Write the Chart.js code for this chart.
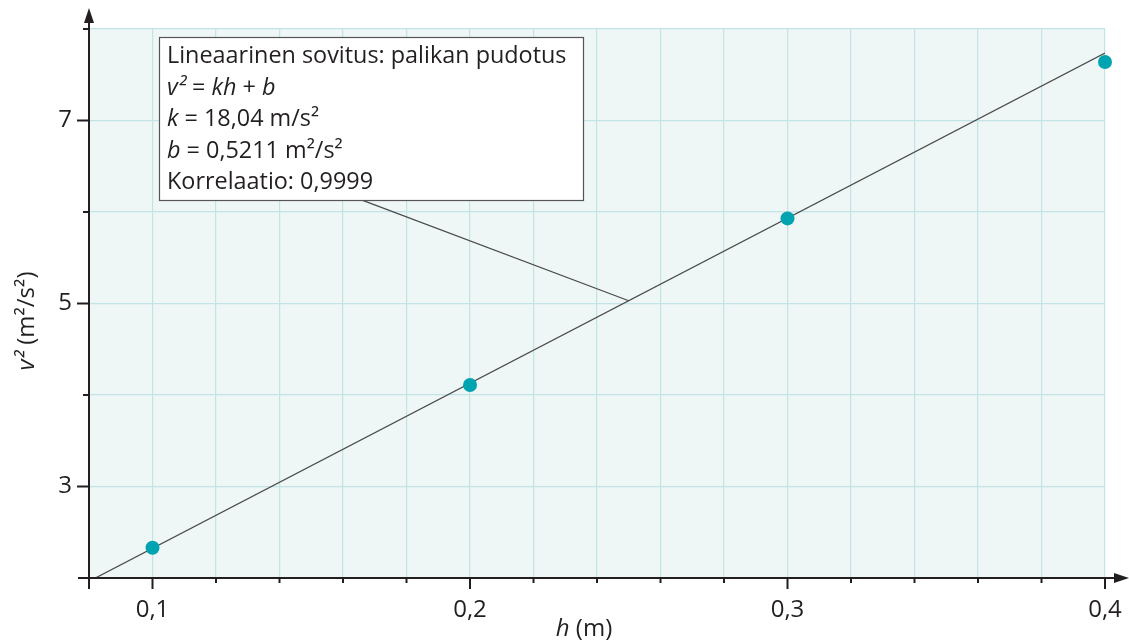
<!DOCTYPE html>
<html>
<head>
<meta charset="utf-8">
<script src="https://cdn.jsdelivr.net/npm/chart.js@4"></script>
<style>
  body { margin: 0; background: #fff; }
  #wrap { width: 1129px; height: 644px; position: relative; }
</style>
</head>
<body>
<div id="wrap"><canvas id="dropChart"></canvas></div>
<script>
// Mittaukset: pudotuskorkeus h (m) ja nopeuden neliö v² (m²/s²)
const hValues = [0.1, 0.2, 0.3, 0.4];
const v2Values = [2.33, 4.11, 5.93, 7.64];

// Sovitussuoran päätepisteet (v² = 18,04 h + 0,5211)
const fitH = [0.082, 0.4];
const fitV2 = [2.0, 7.737];

// Selitelaatikon osoitinviiva
const pointerH = [0.166, 0.25];
const pointerV2 = [6.13, 5.03];

// Akselien numeroidut jakoviivat
const xTickLabels = [0.1, 0.2, 0.3, 0.4];
const yTickLabels = [3, 5, 7];

// Selitelaatikon rivit: [teksti, kursiivi]
const boxLines = [
    [['Lineaarinen sovitus: palikan pudotus', false]],
    [['v²', true], [' = ', false], ['kh', true], [' + ', false], ['b', true]],
    [['k', true], [' = 18,04 m/s²', false]],
    [['b', true], [' = 0,5211 m²/s²', false]],
    [['Korrelaatio: 0,9999', false]]
];

const FONT = '"Open Sans"';
const TEXT = '#231f20';

const toPoints = (xs, ys) => xs.map((x, i) => ({ x: x, y: ys[i] }));

// Piirtää kursiivia ja tavallista tekstiä sekaisin
function drawRich(ctx, segments, x, y, size, align) {
    let total = 0;
    segments.forEach(([t, it]) => {
        ctx.font = (it ? 'italic ' : '') + size + 'px ' + FONT;
        total += ctx.measureText(t).width;
    });
    let cx = align === 'center' ? x - total / 2 : x;
    segments.forEach(([t, it]) => {
        ctx.font = (it ? 'italic ' : '') + size + 'px ' + FONT;
        ctx.fillText(t, cx, y);
        cx += ctx.measureText(t).width;
    });
}

const decorPlugin = {
    id: 'decor',
    beforeDraw(chart) {
        const { ctx, chartArea: a } = chart;
        ctx.save();
        ctx.fillStyle = '#eff6f6';
        ctx.fillRect(a.left, a.top, a.right - a.left, a.bottom - a.top);
        ctx.restore();
    },
    afterDatasetsDraw(chart) {
        const { ctx, chartArea: a } = chart;
        // Selitelaatikko
        const bx = a.left + 70, by = a.top + 8, bw = 424, bh = 163;
        ctx.save();
        ctx.fillStyle = '#fff';
        ctx.fillRect(bx, by, bw, bh);
        ctx.strokeStyle = '#555';
        ctx.lineWidth = 1.2;
        ctx.strokeRect(bx + 0.5, by + 0.5, bw, bh);
        ctx.fillStyle = TEXT;
        ctx.textBaseline = 'alphabetic';
        boxLines.forEach((line, i) => {
            drawRich(ctx, line, bx + 8, by + 26 + i * 31.5, 23.4, 'left');
        });
        ctx.restore();
    },
    afterDraw(chart) {
        const { ctx, chartArea: a, scales } = chart;
        const x0 = a.left, y0 = a.bottom;
        ctx.save();
        ctx.strokeStyle = TEXT;
        ctx.fillStyle = TEXT;
        ctx.lineWidth = 2;
        ctx.beginPath();
        ctx.moveTo(x0, y0 + 11);
        ctx.lineTo(x0, 16);
        ctx.moveTo(x0 - 11, y0);
        ctx.lineTo(1120, y0);
        // jakoviivat
        scales.x.ticks.forEach(t => {
            const r = Math.round(t.value * 100);
            if (r <= 8) return;
            const px = scales.x.getPixelForValue(t.value);
            const len = xTickLabels.some(v => Math.round(v * 100) === r) ? 11 : 5;
            ctx.moveTo(px, y0);
            ctx.lineTo(px, y0 + len);
        });
        scales.y.ticks.forEach(t => {
            if (t.value <= 2) return;
            const py = scales.y.getPixelForValue(t.value);
            const len = yTickLabels.includes(t.value) ? 12 : 6;
            ctx.moveTo(x0, py);
            ctx.lineTo(x0 - len, py);
        });
        ctx.stroke();
        // nuolenkärjet
        ctx.beginPath();
        ctx.moveTo(x0, 8);
        ctx.lineTo(x0 - 5, 23);
        ctx.lineTo(x0 + 5, 23);
        ctx.closePath();
        ctx.fill();
        ctx.beginPath();
        ctx.moveTo(1129, y0);
        ctx.lineTo(1114, y0 - 5);
        ctx.lineTo(1114, y0 + 5);
        ctx.closePath();
        ctx.fill();
        // akselien otsikot
        ctx.textBaseline = 'middle';
        drawRich(ctx, [['h', true], [' (m)', false]], 584, 629, 24, 'center');
        ctx.translate(27, 321);
        ctx.rotate(-Math.PI / 2);
        drawRich(ctx, [['v²', true], [' (m²/s²)', false]], 0, 0, 24, 'center');
        ctx.restore();
    }
};

document.addEventListener('DOMContentLoaded', function () {
    const ctx = document.getElementById('dropChart');
    new Chart(ctx.getContext('2d'), {
        type: 'scatter',
        data: {
            datasets: [{
                label: 'Mittaukset',
                data: toPoints(hValues, v2Values),
                backgroundColor: '#00a4b0',
                borderWidth: 0,
                pointRadius: 7,
                pointHoverRadius: 7,
                clip: false
            }, {
                label: 'Sovitus',
                data: toPoints(fitH, fitV2),
                showLine: true,
                borderColor: '#4a4a4a',
                borderWidth: 1.3,
                pointRadius: 0
            }, {
                label: 'Osoitin',
                data: toPoints(pointerH, pointerV2),
                showLine: true,
                borderColor: '#4a4a4a',
                borderWidth: 1.2,
                pointRadius: 0
            }]
        },
        options: {
            responsive: true,
            maintainAspectRatio: false,
            animation: false,
            layout: {
                padding: { left: 0, top: 29, right: 24, bottom: 0 }
            },
            plugins: {
                legend: { display: false },
                tooltip: { enabled: false }
            },
            scales: {
                x: {
                    type: 'linear',
                    min: 0.08,
                    max: 0.4,
                    afterFit: s => { s.height = 66; s.paddingLeft = 0; s.paddingRight = 0; },
                    border: { display: false },
                    grid: { color: '#c3e4e7', lineWidth: 1.2, drawTicks: false },
                    ticks: {
                        stepSize: 0.02,
                        autoSkip: false,
                        maxRotation: 0,
                        padding: 18,
                        color: TEXT,
                        font: { family: 'Open Sans', size: 24 },
                        callback: function (value) {
                            const r = Math.round(value * 100);
                            const hit = xTickLabels.find(v => Math.round(v * 100) === r);
                            return hit !== undefined ? hit.toFixed(1).replace('.', ',') : '';
                        }
                    }
                },
                y: {
                    min: 2,
                    max: 8,
                    afterFit: s => { s.width = 89; s.paddingTop = 0; s.paddingBottom = 0; },
                    border: { display: false },
                    grid: { color: '#c3e4e7', lineWidth: 1.2, drawTicks: false },
                    ticks: {
                        stepSize: 1,
                        padding: 17,
                        color: TEXT,
                        font: { family: 'Open Sans', size: 24 },
                        callback: function (value) {
                            return yTickLabels.includes(value) ? String(value) : '';
                        }
                    }
                }
            }
        },
        plugins: [decorPlugin]
    });
});
</script>
</body>
</html>
